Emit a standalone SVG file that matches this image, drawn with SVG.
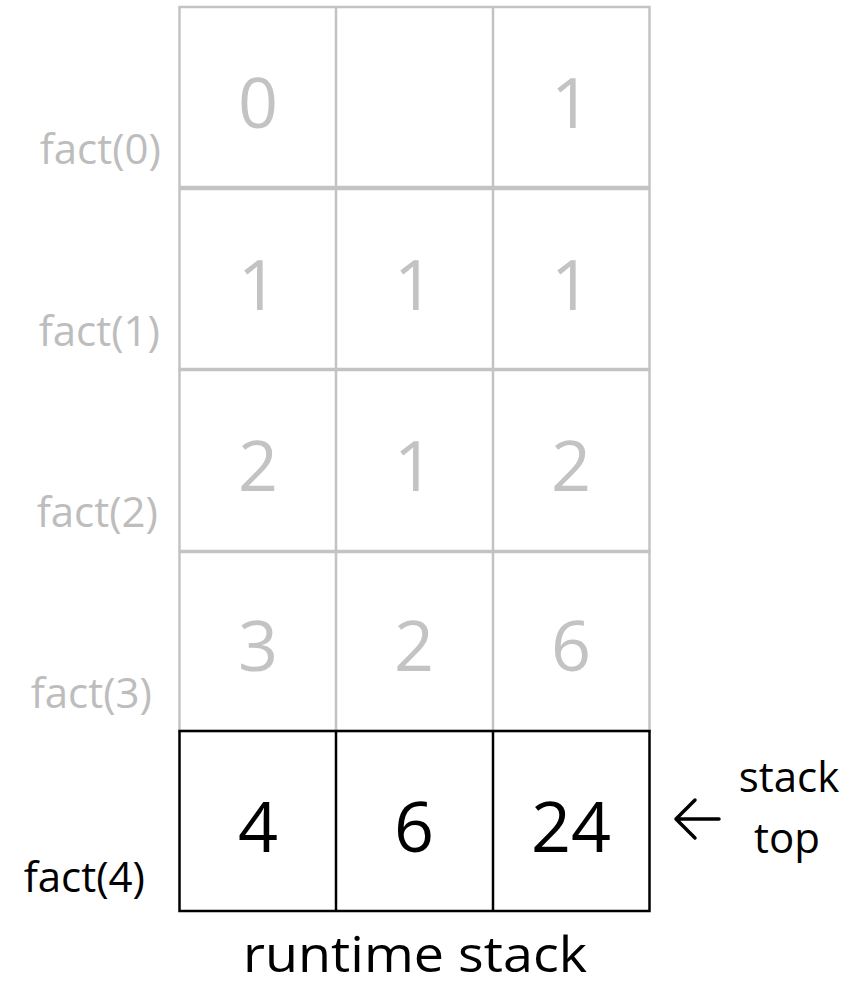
<svg xmlns="http://www.w3.org/2000/svg" width="858" height="991" viewBox="0 0 858 991">
<style>
.g{fill:none;stroke:#C3C3C3;stroke-width:2.5}
.b{fill:none;stroke:#000;stroke-width:2.5}
.vg{font-family:"Open Sans",sans-serif;font-size:70px;fill:#C3C3C3;text-anchor:middle}
.vb{font-family:"Open Sans",sans-serif;font-size:70px;fill:#000;text-anchor:middle}
.lg{font-family:"Open Sans",sans-serif;font-size:42px;fill:#BDBDBD;text-anchor:end}
.lb{font-family:"Open Sans",sans-serif;font-size:42px;fill:#000;text-anchor:end}
.t{font-family:"Open Sans",sans-serif;fill:#000}
.arr{fill:none;stroke:#000;stroke-width:3.5;stroke-linecap:round;stroke-linejoin:round}
</style>
<rect width="858" height="991" fill="#fff"/>
<g id="frame0">
<rect class="g" x="179.5" y="7" width="470" height="180"/>
<line class="g" x1="336" y1="7" x2="336" y2="187"/><line class="g" x1="493" y1="7" x2="493" y2="187"/>
<text class="vg" x="258" y="128">0</text><text class="vg" x="571" y="128">1</text>
<text class="lg" x="161" y="164">fact(0)</text>
</g>
<g id="frame1">
<rect class="g" x="179.5" y="189" width="470" height="180"/>
<line class="g" x1="336" y1="189" x2="336" y2="369"/><line class="g" x1="493" y1="189" x2="493" y2="369"/>
<text class="vg" x="258" y="310">1</text><text class="vg" x="414" y="310">1</text><text class="vg" x="571" y="310">1</text>
<text class="lg" x="160" y="346">fact(1)</text>
</g>
<g id="frame2">
<rect class="g" x="179.5" y="370" width="470" height="181"/>
<line class="g" x1="336" y1="370" x2="336" y2="551"/><line class="g" x1="493" y1="370" x2="493" y2="551"/>
<text class="vg" x="258" y="491">2</text><text class="vg" x="414" y="491">1</text><text class="vg" x="571" y="491">2</text>
<text class="lg" x="158" y="527">fact(2)</text>
</g>
<g id="frame3">
<rect class="g" x="179.5" y="552" width="470" height="179"/>
<line class="g" x1="336" y1="552" x2="336" y2="731"/><line class="g" x1="493" y1="552" x2="493" y2="731"/>
<text class="vg" x="258" y="671">3</text><text class="vg" x="414" y="671">2</text><text class="vg" x="571" y="671">6</text>
<text class="lg" x="152" y="708">fact(3)</text>
</g>
<g id="frame4">
<rect class="b" x="179.5" y="731" width="470" height="180"/>
<line class="b" x1="336" y1="731" x2="336" y2="911"/><line class="b" x1="493" y1="731" x2="493" y2="911"/>
<text class="vb" x="258" y="852">4</text><text class="vb" x="414" y="852">6</text><text class="vb" x="571" y="852">24</text>
<text class="lb" x="145" y="892">fact(4)</text>
</g>
<g id="connectors">
<path class="arr" d="M719,819 H676 M695,800 L676,819 L695,838"/>
</g>
<g id="labels">
<text class="t" x="789" y="792" font-size="42" text-anchor="middle">stack</text>
<text class="t" x="787" y="853" font-size="42" text-anchor="middle">top</text>
<text class="t" x="415" y="972" font-size="50" text-anchor="middle" textLength="344" lengthAdjust="spacingAndGlyphs">runtime stack</text>
</g>
</svg>
